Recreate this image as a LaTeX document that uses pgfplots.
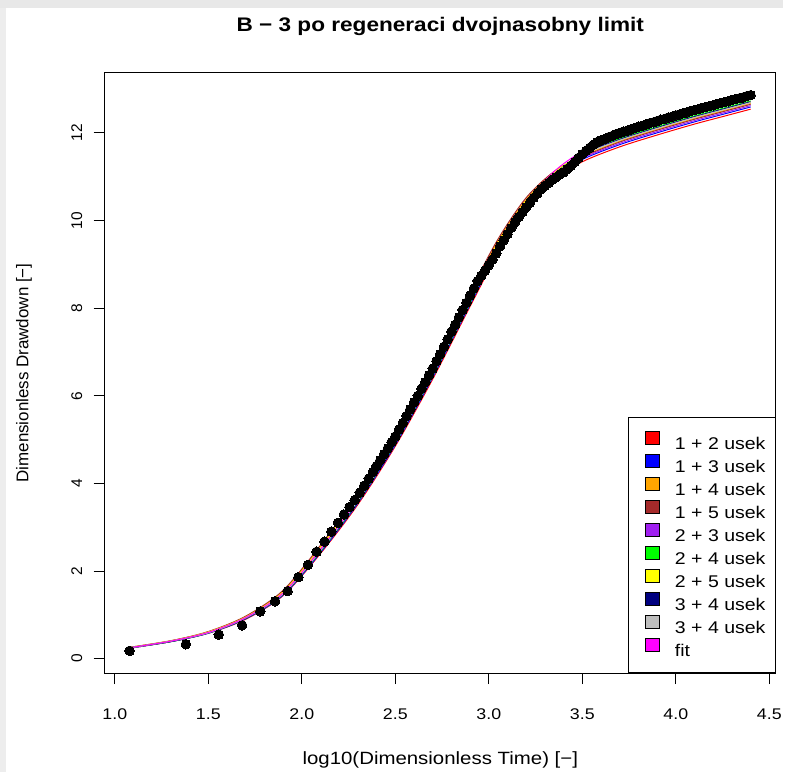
\documentclass[border=0pt]{standalone}
\usepackage{fontspec}
\setmainfont{Liberation Sans}[FakeStretch=1.15]
\newfontfamily\plainsans{Liberation Sans}
\usepackage{pgfplots}
\usepackage{pgfplotstable}
\pgfplotsset{compat=1.18}

\definecolor{rorange}{HTML}{FFA500}
\definecolor{rbrown}{HTML}{A52A2A}
\definecolor{rpurple}{HTML}{A020F0}
\definecolor{rgreen}{HTML}{00FF00}
\definecolor{ryellow}{HTML}{FFFF00}
\definecolor{rnavy}{HTML}{000080}
\definecolor{rgray}{HTML}{BEBEBE}
\definecolor{rmagenta}{HTML}{FF00FF}

\pgfplotstableread{
x r b o br p g y n gr m
1.08 0.24 0.24 0.26 0.26 0.25 0.25 0.25 0.25 0.25 0.25
1.30 0.39 0.39 0.41 0.41 0.40 0.39 0.40 0.39 0.40 0.40
1.50 0.58 0.58 0.61 0.62 0.60 0.59 0.61 0.59 0.59 0.60
1.70 0.90 0.91 0.96 0.97 0.93 0.92 0.95 0.92 0.93 0.94
1.90 1.44 1.45 1.54 1.56 1.49 1.47 1.52 1.47 1.48 1.50
2.10 2.40 2.42 2.56 2.59 2.48 2.45 2.53 2.46 2.47 2.50
2.30 3.52 3.55 3.73 3.76 3.62 3.58 3.69 3.59 3.61 3.65
2.50 4.85 4.88 5.09 5.14 4.97 4.92 5.05 4.93 4.95 5.00
2.70 6.38 6.42 6.66 6.70 6.51 6.46 6.61 6.47 6.49 6.55
2.90 8.04 8.08 8.33 8.38 8.18 8.12 8.28 8.14 8.16 8.22
3.05 9.26 9.30 9.54 9.58 9.39 9.34 9.49 9.35 9.37 9.43
3.20 10.27 10.30 10.48 10.52 10.37 10.33 10.45 10.34 10.36 10.40
3.35 10.93 10.97 11.11 11.12 11.02 11.06 11.10 11.05 11.05 11.12
3.50 11.34 11.39 11.47 11.45 11.42 11.53 11.50 11.51 11.49 11.57
3.70 11.68 11.73 11.81 11.79 11.76 11.87 11.84 11.85 11.83 11.91
3.90 11.95 12.00 12.08 12.06 12.03 12.14 12.11 12.12 12.10 12.18
4.10 12.20 12.25 12.33 12.31 12.28 12.39 12.36 12.37 12.35 12.43
4.25 12.37 12.42 12.50 12.48 12.45 12.56 12.53 12.54 12.52 12.60
4.40 12.54 12.59 12.67 12.65 12.62 12.73 12.70 12.71 12.69 12.77
}\fits

\pgfplotstableread{
x d
1.079 0.18
1.380 0.33
1.556 0.55
1.681 0.76
1.778 1.08
1.857 1.31
1.924 1.54
1.982 1.86
2.033 2.14
2.079 2.44
2.121 2.67
2.158 2.90
2.193 3.10
2.225 3.29
2.255 3.46
2.283 3.62
2.310 3.79
2.334 3.95
2.358 4.11
2.380 4.26
2.40 4.40
2.42 4.53
2.44 4.67
2.46 4.80
2.48 4.94
2.50 5.07
2.52 5.23
2.54 5.38
2.56 5.54
2.58 5.69
2.60 5.85
2.62 6.00
2.64 6.16
2.66 6.31
2.68 6.47
2.70 6.62
2.72 6.79
2.74 6.95
2.76 7.12
2.78 7.29
2.80 7.46
2.82 7.62
2.84 7.79
2.86 7.96
2.88 8.12
2.90 8.29
2.92 8.45
2.94 8.62
2.96 8.74
2.98 8.86
3.00 8.98
3.02 9.11
3.04 9.25
3.06 9.41
3.08 9.55
3.10 9.69
3.12 9.83
3.14 9.96
3.16 10.08
3.18 10.19
3.20 10.30
3.22 10.41
3.24 10.52
3.26 10.62
3.28 10.71
3.30 10.79
3.32 10.86
3.34 10.93
3.36 10.99
3.38 11.05
3.40 11.10
3.42 11.17
3.44 11.25
3.46 11.34
3.48 11.43
3.50 11.51
3.52 11.59
3.54 11.66
3.56 11.73
3.58 11.79
3.60 11.83
3.62 11.86
3.64 11.90
3.66 11.93
3.68 11.97
3.70 12.00
3.72 12.03
3.74 12.05
3.76 12.08
3.78 12.11
3.80 12.14
3.82 12.16
3.84 12.19
3.86 12.22
3.88 12.24
3.90 12.27
3.92 12.30
3.94 12.32
3.96 12.35
3.98 12.37
4.00 12.40
4.02 12.42
4.04 12.45
4.06 12.47
4.08 12.50
4.10 12.52
4.12 12.54
4.14 12.57
4.16 12.59
4.18 12.61
4.20 12.63
4.22 12.66
4.24 12.68
4.26 12.70
4.28 12.72
4.30 12.75
4.32 12.77
4.34 12.79
4.36 12.81
4.38 12.84
4.40 12.86
}\obs

\pgfplotsset{sq/.style={legend image code/.code={\path (0pt,0pt); \draw[draw=black, line width=0.8pt, fill=#1] (9pt,-1pt) rectangle (23pt,12pt);}}}

\begin{document}
\begin{tikzpicture}
\path (-105pt,-99pt) rectangle (680pt,675pt);
\fill[black!9] (-105pt,667pt) rectangle (680pt,675pt);
\fill[black!7] (-105pt,-99pt) rectangle (-99pt,667pt);
\begin{axis}[
  scale only axis, width=673pt, height=602pt,
  xmin=0.946, xmax=4.535, ymin=-0.33, ymax=13.37,
  axis line style={line width=0.9pt},
  tick align=outside, xtick pos=lower, ytick pos=left,
  major tick length=11pt,
  tick style={line width=0.9pt, black},
  xtick={1,1.5,...,4.5}, ytick={0,2,...,12},
  /pgf/number format/assume math mode=true,
  xticklabel style={/pgf/number format/fixed, /pgf/number format/fixed zerofill, /pgf/number format/precision=1, font=\fontsize{15.5}{18}\selectfont, yshift=-21pt},
  yticklabel style={xshift=-8pt, rotate=90, anchor=south, font=\plainsans\fontsize{15.5}{18}\selectfont},
  title={B − 3 po regeneraci dvojnasobny limit},
  title style={at={([yshift=40pt]axis description cs:0.5,1)}, anchor=center, font=\fontsize{19.7}{23}\selectfont\bfseries},
  xlabel={log10(Dimensionless Time) [−]},
  xlabel style={at={([yshift=-87pt]axis description cs:0.5,0)}, anchor=center, font=\fontsize{17.8}{21}\selectfont},
  ylabel={Dimensionless Drawdown [−]},
  ylabel style={at={([xshift=-81pt]axis description cs:0,0.5)}, anchor=center, rotate=0, font=\plainsans\fontsize{17}{20}\selectfont},
  legend cell align=left,
  legend style={at={(1,0)}, anchor=south east, draw=black, line width=0.8pt, fill=white,
    font=\fontsize{17}{20}\selectfont, inner xsep=8pt, inner ysep=14pt, row sep=2.7pt,
    nodes={inner sep=2pt, text height=12pt, text depth=0pt},
    /tikz/every odd column/.append style={column sep=13pt}},
]
\addplot[only marks, mark=*, mark size=4.8pt, mark options={fill=black, draw=black, line width=0pt}, forget plot] table[x=x,y=d]{\obs};
\addplot[red, line width=1pt, smooth, sq=red] table[x=x,y=r]{\fits}; \addlegendentry{1 + 2 usek}
\addplot[blue, line width=1pt, smooth, sq=blue] table[x=x,y=b]{\fits}; \addlegendentry{1 + 3 usek}
\addplot[rorange, line width=1pt, smooth, sq=rorange] table[x=x,y=o]{\fits}; \addlegendentry{1 + 4 usek}
\addplot[rbrown, line width=1pt, smooth, sq=rbrown] table[x=x,y=br]{\fits}; \addlegendentry{1 + 5 usek}
\addplot[rpurple, line width=1pt, smooth, sq=rpurple] table[x=x,y=p]{\fits}; \addlegendentry{2 + 3 usek}
\addplot[rgreen, line width=1pt, smooth, sq=rgreen] table[x=x,y=g]{\fits}; \addlegendentry{2 + 4 usek}
\addplot[ryellow, line width=1pt, smooth, sq=ryellow] table[x=x,y=y]{\fits}; \addlegendentry{2 + 5 usek}
\addplot[rnavy, line width=1pt, smooth, sq=rnavy] table[x=x,y=n]{\fits}; \addlegendentry{3 + 4 usek}
\addplot[rgray, line width=1pt, smooth, sq=rgray] table[x=x,y=gr]{\fits}; \addlegendentry{3 + 4 usek}
\addplot[rmagenta, line width=1pt, smooth, sq=rmagenta] table[x=x,y=m]{\fits}; \addlegendentry{fit}
\end{axis}
\end{tikzpicture}
\end{document}
